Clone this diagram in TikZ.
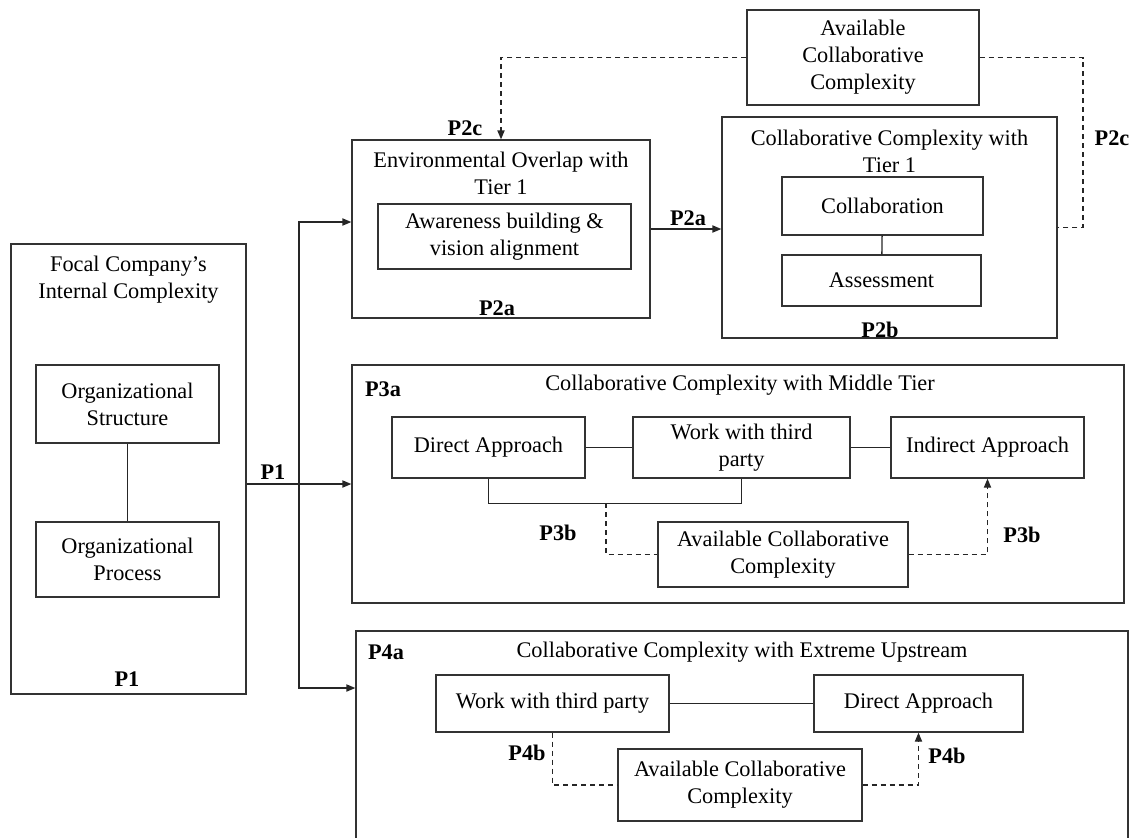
\documentclass[tikz,border=0pt]{standalone}
\usepackage{fontspec}
\setmainfont{Liberation Serif}
\usetikzlibrary{arrows.meta,fit}

\begin{document}
\begin{tikzpicture}[x=0.5pt,y=-0.5pt]
\tikzstyle{every node}+=[inner sep=0pt, align=center, font=\fontsize{11.15}{13.5}\selectfont]
\tikzstyle{box}=[draw=black!80, line width=0.65pt, rectangle]
\tikzstyle{lbl}=[font=\fontsize{11.15}{13.5}\selectfont\bfseries]
\tikzstyle{link}=[draw=black!85, line width=0.65pt]
\tikzstyle{arr}=[link, -{Triangle[length=4.5pt,width=3.6pt]}]
\tikzstyle{dashlink}=[link, dash pattern=on 2.5pt off 2pt]
\tikzstyle{dasharr}=[arr, dash pattern=on 2.5pt off 2pt]
\useasboundingbox (0,0) rectangle (1134,837);
\clip (0,0) rectangle (1134,837);

% focal company
\node[box, fit={(11,244) (246,694)}] (focal) {};
\node (focaltitle) at (128.5,279.5) {Focal Company's\\Internal Complexity};
\node[box, minimum width=91.5pt, minimum height=39pt] (orgstruct) at (127.5,404) {Organizational\\Structure};
\node[box, minimum width=91.5pt, minimum height=37.5pt] (orgproc) at (127.5,559.5) {Organizational\\Process};
\node[lbl] (p1low) at (127,679) {P1};
\draw[link] (orgstruct) -- (orgproc);

% tier 1
\node[box, fit={(352,140) (650,318)}] (envbox) {};
\node (envtitle) at (501,173.5) {Environmental Overlap with\\Tier 1};
\node[box, minimum width=126.5pt, minimum height=32.5pt] (aware) at (504.5,236.5) {Awareness building \&\\vision alignment};
\node[lbl] (p2alow) at (497,308) {P2a};
\node[box, fit={(722,117) (1057,338)}] (collabbox) {};
\node (collabtitle) at (889.5,151) {Collaborative Complexity with\\Tier 1};
\node[box, minimum width=100.5pt, minimum height=29pt] (collab) at (882.5,206) {Collaboration};
\node[box, minimum width=99.5pt, minimum height=25.5pt] (assess) at (881.5,280.5) {Assessment};
\node[lbl] (p2b) at (880,330) {P2b};
\node[box, minimum width=116pt, minimum height=47.5pt] (availtop) at (863,57.5) {Available\\Collaborative\\Complexity};
\draw[link] (collab) -- (assess);
\draw[arr] (envbox.east) -- (envbox.east -| collabbox.west);
\node[lbl] (p2amid) at (688,218) {P2a};
\draw[dasharr] (availtop.west) -| (envbox.north);
\node[lbl] (p2ctop) at (465,128) {P2c};
\coordinate (p2cturn) at (1083,57.5);
\draw[dashlink] (availtop.east) -- (availtop.east -| p2cturn) |- (collabbox.east);
\node[lbl] (p2cside) at (1112,138) {P2c};

% middle tier
\node[box, fit={(352,365) (1124,603)}] (midbox) {};
\node (midtitle) at (740,385) {Collaborative Complexity with Middle Tier};
\node[lbl] (p3a) at (383,389) {P3a};
\node[box, minimum width=96.5pt, minimum height=30.5pt] (middirect) at (488.5,447.5) {Direct Approach};
\node[box, minimum width=108.5pt, minimum height=30.5pt] (midwork) at (741.5,447.5) {Work with third\\party};
\node[box, minimum width=96.5pt, minimum height=30.5pt] (midindirect) at (987.5,447.5) {Indirect Approach};
\node[box, minimum width=125pt, minimum height=32.5pt] (midavail) at (783,554.5) {Available Collaborative\\Complexity};
\draw[link] (middirect) -- (midwork);
\draw[link] (midwork) -- (midindirect);
\draw[link] (middirect.south) -- ++(0,25) -| (midwork.south);
\coordinate (p3bstart) at (606,503);
\draw[dashlink] (p3bstart) |- (midavail.west);
\draw[dasharr] (midavail.east) -| (midindirect.south);
\node[lbl] (p3bleft) at (558,533) {P3b};
\node[lbl] (p3bright) at (1022,535) {P3b};

% extreme upstream
\node[box, fit={(356,631) (1128,900)}] (upbox) {};
\node (uptitle) at (742,652) {Collaborative Complexity with Extreme Upstream};
\node[lbl] (p4a) at (386,652) {P4a};
\node[box, minimum width=116.5pt, minimum height=28.5pt] (upwork) at (552.5,703.5) {Work with third party};
\node[box, minimum width=104.5pt, minimum height=28.5pt] (updirect) at (918.5,703.5) {Direct Approach};
\node[box, minimum width=122pt, minimum height=36pt] (upavail) at (740,785) {Available Collaborative\\Complexity};
\draw[link] (upwork) -- (updirect);
\draw[dashlink] (upwork.south) |- (upavail.west);
\draw[dasharr] (upavail.east) -| (updirect.south);
\node[lbl] (p4bleft) at (527,753) {P4b};
\node[lbl] (p4bright) at (947,756) {P4b};

% P1 branches
\draw[arr] (midbox.west -| focal.east) -- (midbox.west);
\node[lbl] (p1mid) at (273,472) {P1};
\coordinate (p1split) at (299,484);
\coordinate (p1top) at (299,222);
\coordinate (p1bot) at (299,688);
\draw[arr] (p1split) -- (p1top) -- (p1top -| envbox.west);
\draw[arr] (p1split) -- (p1bot) -- (p1bot -| upbox.west);
\end{tikzpicture}
\end{document}
